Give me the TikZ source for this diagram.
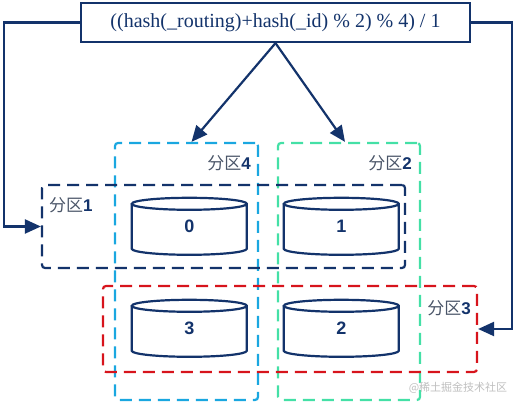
\documentclass[tikz,border=0pt]{standalone}
\usepackage{fontspec}
\setmainfont{Liberation Serif}
\newfontfamily\cjk{Noto Sans CJK SC}
\newfontfamily\arial{Liberation Sans}
\usepackage{xcolor}
\usetikzlibrary{arrows.meta,positioning}

\definecolor{navy}{HTML}{13336B}
\definecolor{cyanline}{HTML}{1AA7E0}
\definecolor{mintline}{HTML}{44E0A6}
\definecolor{redline}{HTML}{D7141C}
\definecolor{labelgray}{HTML}{4A5568}

\newcommand{\plabel}[1]{{\cjk\color{labelgray}分区}{\arial\bfseries\color{navy}#1}}

\tikzset{
  formula/.style={draw=navy,line width=2.2pt,fill=white,minimum width=389pt,minimum height=39pt,
    text=navy,font=\fontsize{20}{22}\selectfont},
  link/.style={draw=navy,line width=2.2pt,-{Triangle[length=16pt,width=14pt]}},
  zone/.style={line width=2.2pt,dash pattern=on 12pt off 7pt,rounded corners=3pt,inner sep=0pt},
  zonelbl/.style={inner sep=0pt,font=\fontsize{17}{19}\selectfont},
  disk/.style={minimum width=115pt,minimum height=57pt,inner sep=0pt,text=navy,
    font=\arial\bfseries\fontsize{18}{20}\selectfont},
  diskline/.style={draw=navy,line width=2.2pt,fill=white}
}

\begin{document}
\begin{tikzpicture}[x=1pt,y=1pt]
  \useasboundingbox (0,0) rectangle (517,406);
  % partitions
  \node[zone,draw=cyanline,minimum width=143pt,minimum height=257pt] (p4) at (186.5,134.5) {};
  \node[zone,draw=mintline,minimum width=142pt,minimum height=257pt] (p2) at (349,134.5) {};
  \node[zone,draw=navy,minimum width=363pt,minimum height=83pt] (p1) at (223.5,179.5) {};
  \node[zone,draw=redline,minimum width=374pt,minimum height=86pt] (p3) at (290,77) {};
  \node[zonelbl,below left=13pt and 8pt of p4.north east] (l4) {\plabel{4}};
  \node[zonelbl,below left=13pt and 9pt of p2.north east] (l2) {\plabel{2}};
  \node[zonelbl,below right=13pt and 8pt of p1.north west] (l1) {\plabel{1}};
  \node[zonelbl,below left=15pt and 7pt of p3.north east] (l3) {\plabel{3}};
  % shards
  \node[disk] (d0) at (189.5,179.5) {};
  \node[disk] (d1) at (341.5,179.5) {};
  \node[disk] (d3) at (189.5,77.5) {};
  \node[disk] (d2) at (341.5,77.5) {};
  \foreach \d in {d0,d1,d2,d3} {
    \path[diskline] (\d.north west) ++(0,-6) -- ++(0,-45)
      arc[start angle=180,end angle=360,x radius=57.5,y radius=6] -- ++(0,45)
      arc[start angle=0,end angle=360,x radius=57.5,y radius=6];
  }
  \node[disk] at (d0) {0};
  \node[disk] at (d1) {1};
  \node[disk] at (d3) {3};
  \node[disk] at (d2) {2};
  % routing formula
  \node[formula] (f) at (275.5,383.5) {((hash(\_routing)+hash(\_id) \% 2) \% 4) / 1};
  \coordinate (lc) at (4,383.5);
  \coordinate (rc) at (512,383.5);
  \draw[link] (f.west) -- (lc) |- (p1.west);
  \draw[link] (f.east) -- (rc) |- (p3.east);
  \draw[link] (f.south) -- ([xshift=5pt]p4.north);
  \draw[link] (f.south) -- ([xshift=-4pt]p2.north);
  \node[inner sep=0pt,text=black!25,font=\cjk\fontsize{11}{12}\selectfont] (wm) at (458,18) {@稀土掘金技术社区};
\end{tikzpicture}
\end{document}
